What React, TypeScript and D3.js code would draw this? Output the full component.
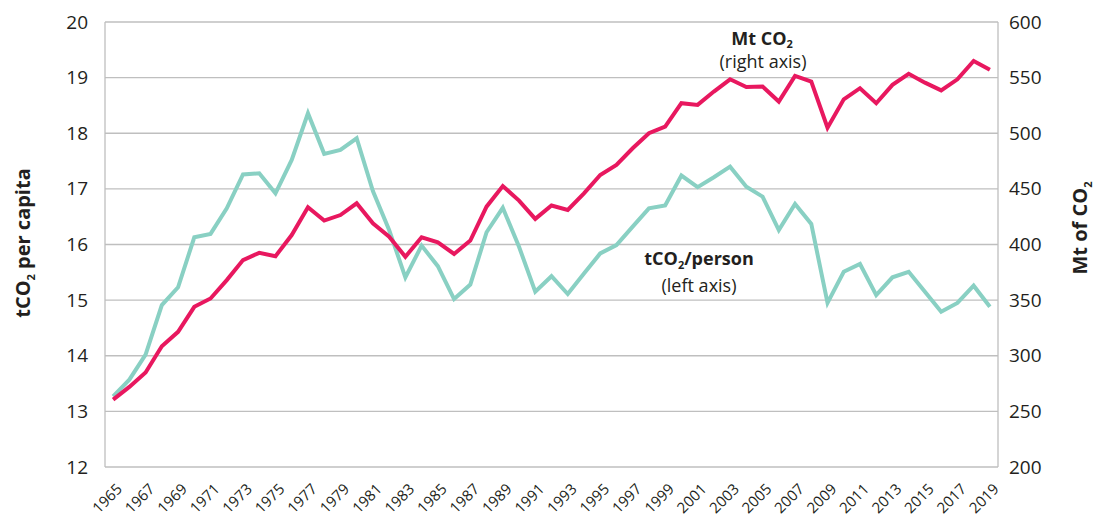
import React, { useRef, useEffect } from "react";
import * as d3 from "d3";

// years on the x axis, 1965..2019
const years: number[] = d3.range(1965, 2020);

// tCO2 per person (left axis)
const perCapita: number[] = [
  13.27, 13.57, 14.02, 14.91, 15.23, 16.13, 16.19, 16.65, 17.26, 17.28,
  16.92, 17.52, 18.36, 17.63, 17.7, 17.91, 16.96, 16.26, 15.41, 15.98,
  15.61, 15.02, 15.28, 16.22, 16.66, 15.96, 15.15, 15.43, 15.11, 15.48,
  15.84, 15.99, 16.32, 16.65, 16.7, 17.24, 17.03, 17.21, 17.4, 17.04,
  16.86, 16.26, 16.73, 16.37, 14.95, 15.51, 15.65, 15.09, 15.41, 15.51,
  15.15, 14.79, 14.95, 15.26, 14.88,
];

// Mt of CO2 (right axis)
const totalMt: number[] = [
  260.5, 272, 285, 308.5, 321.5, 344, 351.5, 368, 386, 392.5,
  389.5, 408.5, 433.5, 421.5, 426.5, 437, 419, 407, 389, 406.5,
  402, 391.5, 403.5, 434, 452.5, 439.5, 423, 435, 431, 446,
  462.5, 471.5, 486.5, 500, 506, 527, 525.5, 537.5, 548.5, 541.5,
  542, 528.5, 551.5, 546.5, 505, 530.5, 540.5, 527, 543.5, 553.5,
  545.5, 538.5, 548.5, 565, 557,
];

const leftTicks: number[] = [12, 13, 14, 15, 16, 17, 18, 19, 20];
const rightTicks: number[] = [200, 250, 300, 350, 400, 450, 500, 550, 600];
const yearLabels: number[] = years.filter((y) => y % 2 === 1);

const W = 1099;
const H = 521;
const left = 105;
const right = 998;
const top = 22;
const bottom = 467;

const PINK = "#e8185f";
const TEAL = "#89d0c3";
const GRID = "#bfbfbf";
const INK = "#231f20";
const FONT = "'Open Sans', sans-serif";

export default function App() {
  const gRef = useRef<SVGGElement>(null);

  useEffect(() => {
    const g = d3.select(gRef.current);
    g.selectAll("*").remove();

    const x = d3.scalePoint<number>().domain(years).range([left, right]).padding(0.5);
    const yL = d3.scaleLinear().domain([12, 20]).range([bottom, top]);
    const yR = d3.scaleLinear().domain([200, 600]).range([bottom, top]);

    // gridlines
    g.append("g")
      .selectAll("line")
      .data(leftTicks)
      .join("line")
      .attr("x1", left)
      .attr("x2", right)
      .attr("y1", (d) => yL(d))
      .attr("y2", (d) => yL(d))
      .attr("stroke", GRID)
      .attr("stroke-width", 1.3);

    // frame sides
    g.append("g")
      .selectAll("line")
      .data([left, right])
      .join("line")
      .attr("x1", (d) => d)
      .attr("x2", (d) => d)
      .attr("y1", top)
      .attr("y2", bottom)
      .attr("stroke", GRID)
      .attr("stroke-width", 1.3);

    // left axis
    const gl = g
      .append("g")
      .attr("transform", `translate(${left - 17},0)`)
      .call(d3.axisLeft(yL).tickValues(leftTicks).tickSize(0).tickPadding(0));
    gl.select(".domain").remove();
    gl.selectAll("text").attr("font-family", FONT).attr("font-size", 19).attr("fill", INK);

    // right axis
    const gr = g
      .append("g")
      .attr("transform", `translate(${right + 11},0)`)
      .call(d3.axisRight(yR).tickValues(rightTicks).tickSize(0).tickPadding(0));
    gr.select(".domain").remove();
    gr.selectAll("text").attr("font-family", FONT).attr("font-size", 19).attr("fill", INK);

    // x labels, rotated
    g.append("g")
      .selectAll("text")
      .data(yearLabels)
      .join("text")
      .attr("transform", (d) => `translate(${(x(d) as number) + 10},${bottom + 23}) rotate(-45)`)
      .attr("text-anchor", "end")
      .attr("font-family", FONT)
      .attr("font-size", 15)
      .attr("fill", INK)
      .text((d) => d);

    const lineL = d3
      .line<number>()
      .x((d, i) => x(years[i]) as number)
      .y((d) => yL(d));
    const lineR = d3
      .line<number>()
      .x((d, i) => x(years[i]) as number)
      .y((d) => yR(d));

    g.append("path")
      .datum(perCapita)
      .attr("d", lineL)
      .attr("fill", "none")
      .attr("stroke", TEAL)
      .attr("stroke-width", 4);

    g.append("path")
      .datum(totalMt)
      .attr("d", lineR)
      .attr("fill", "none")
      .attr("stroke", PINK)
      .attr("stroke-width", 4);
  }, []);

  const sub: React.CSSProperties = { fontSize: 11 };

  return (
    <svg width={W} height={H} style={{ position: "absolute", left: 0, top: 0, background: "#fff" }}>
      <g ref={gRef} />
      <g fontFamily={FONT} fill={INK}>
        {/* axis titles */}
        <text
          transform="translate(30,243) rotate(-90)"
          textAnchor="middle"
          fontWeight="bold"
          fontSize={20}
        >
          tCO<tspan style={sub} dy={5}>2</tspan>
          <tspan dy={-5}> per capita</tspan>
        </text>
        <text
          transform="translate(1087,228) rotate(-90)"
          textAnchor="middle"
          fontWeight="bold"
          fontSize={20}
        >
          Mt of CO<tspan style={sub} dy={5}>2</tspan>
        </text>

        {/* series annotations */}
        <text x={762} y={45} textAnchor="middle" fontWeight="bold" fontSize={18}>
          Mt CO<tspan style={sub} dy={3}>2</tspan>
        </text>
        <text x={763} y={68} textAnchor="middle" fontSize={18}>
          (right axis)
        </text>
        <text x={699} y={265} textAnchor="middle" fontWeight="bold" fontSize={18}>
          tCO<tspan style={sub} dy={4}>2</tspan>
          <tspan dy={-4}>/person</tspan>
        </text>
        <text x={699} y={292} textAnchor="middle" fontSize={18}>
          (left axis)
        </text>
      </g>
    </svg>
  );
}
